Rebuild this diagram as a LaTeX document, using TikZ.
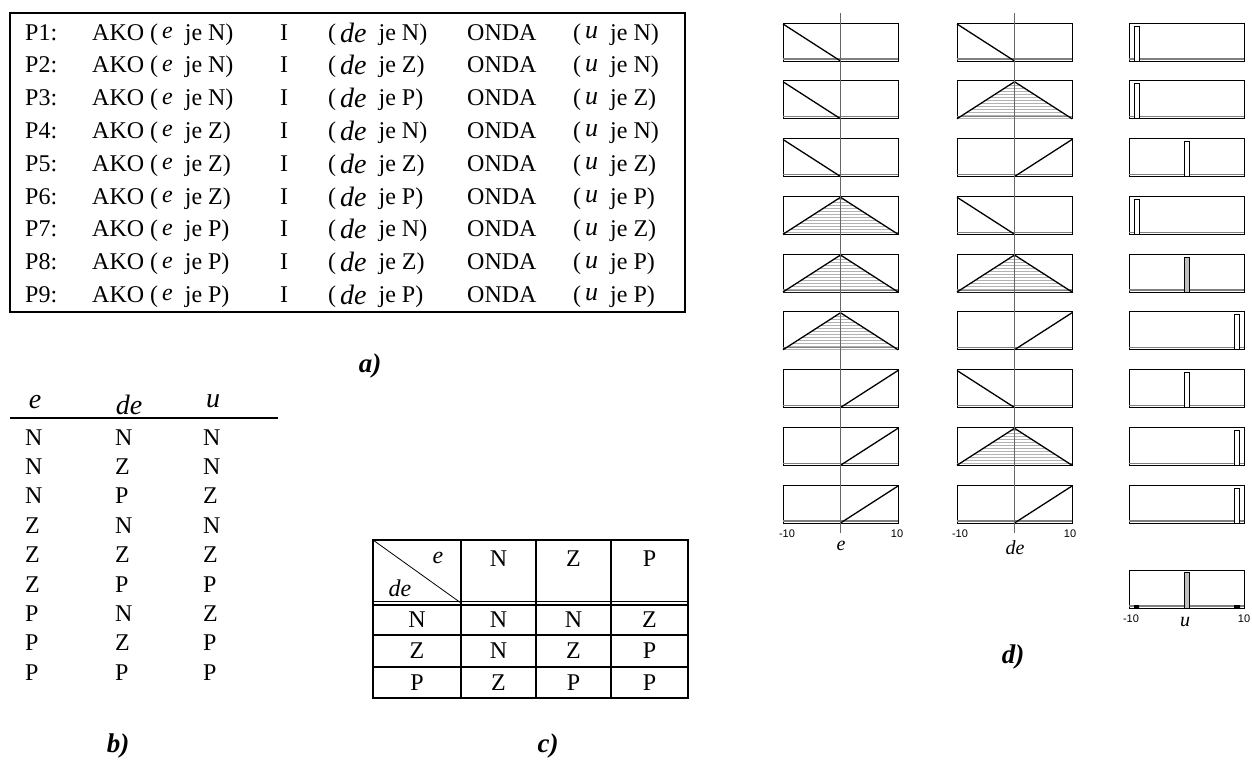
\documentclass[tikz,border=0pt]{standalone}
\usepackage{fontspec}
\setmainfont{Liberation Serif}
\newfontfamily\axisfont{Liberation Sans}
\usetikzlibrary{patterns}
\tikzset{
  % tabele
  rule/.style={font=\fontsize{24}{26}\selectfont,inner sep=0pt,anchor=base west},
  cell/.style={font=\fontsize{24}{26}\selectfont,inner sep=0pt},
  var/.style={font=\fontsize{28}{30}\selectfont\itshape,inner sep=0pt,anchor=base},
  panel/.style={font=\fontsize{27}{29}\selectfont\bfseries\itshape,inner sep=0pt},
  frame/.style={draw=black,line width=1.8pt},
  grid/.style={draw=black,line width=2pt},
  % funkcije pripadnosti
  mfbox/.style={draw=black,line width=1pt},
  mfbase/.style={draw=black!50,line width=1.2pt},
  mfaxis/.style={draw=black!60,line width=1.4pt},
  mfline/.style={draw=black,line width=1.3pt},
  mftri/.style={pattern=horizontal lines,pattern color=black!30},
  single/.style={draw=black,line width=1pt,fill=white},
  fired/.style={draw=black,line width=1pt,fill=black!25},
  axlab/.style={font=\axisfont\fontsize{11}{12}\selectfont,inner sep=0pt},
  axvar/.style={font=\fontsize{20}{22}\selectfont\itshape,inner sep=0pt},
  mfN/.pic={\draw[mfline] (0,1) -- (57.5,38);},
  mfZ/.pic={\fill[mftri] (0,38) -- (57.5,1) -- (115,38) -- cycle;
            \draw[mfline] (0,38) -- (57.5,1) -- (115,38);},
  mfP/.pic={\draw[mfline] (57.5,38) -- (115,1);},
}

\begin{document}
\begin{tikzpicture}[x=1pt,y=-1pt]
  \useasboundingbox (0,0) rectangle (1252,761);

  % a) baza pravila
  \draw[frame] (10,13) rectangle (685,312);
  \foreach \i/\ve/\vd/\vu in {1/N/N/N,2/N/Z/N,3/N/P/Z,4/Z/N/N,5/Z/Z/Z,
                              6/Z/P/P,7/P/N/Z,8/P/Z/P,9/P/P/P}{
    \pgfmathsetmacro\yb{40+32.8*(\i-1)}
    \node[rule] (pr\i) at (25,\yb) {P\i:};
    \node[rule] (ako\i) at (92,\yb) {AKO (\,\raisebox{1.5pt}{\textit{e}}\ \ je \ve)};
    \node[rule] (and\i) at (280,\yb) {I};
    \node[rule] (de\i) at (328,\yb) {(\,\raisebox{-2pt}{\fontsize{28}{30}\selectfont\itshape de}\ \ je \vd)};
    \node[rule] (onda\i) at (467,\yb) {ONDA};
    \node[rule] (u\i) at (573,\yb) {(\,\raisebox{1.5pt}{\fontsize{26}{28}\selectfont\itshape u}\ \ je \vu)};
  }
  \node[panel] (la) at (370,366) {a)};

  % b) tablica
  \node[var] (he) at (35,408) {e};
  \node[var] (hde) at (129,414) {de};
  \node[var] (hu) at (213,407) {u};
  \draw[line width=2pt] (10,418) -- (278,418);
  \foreach \i/\ve/\vd/\vu in {1/N/N/N,2/N/Z/N,3/N/P/Z,4/Z/N/N,5/Z/Z/Z,
                              6/Z/P/P,7/P/N/Z,8/P/Z/P,9/P/P/P}{
    \pgfmathsetmacro\yb{445+29.4*(\i-1)}
    \node[rule] (be\i) at (25,\yb) {\ve};
    \node[rule] (bd\i) at (115,\yb) {\vd};
    \node[rule] (bu\i) at (203,\yb) {\vu};
  }
  \node[panel] (lb) at (118,746) {b)};

  % c) matrica pravila
  \draw[line width=2.6pt] (373,540) rectangle (688,698);
  \draw[grid] (461,540) -- (461,698) (536,540) -- (536,698) (611,540) -- (611,698);
  \draw[line width=1.3pt] (373,601.5) -- (688,601.5) (373,605) -- (688,605);
  \draw[grid] (373,635) -- (688,635) (373,667) -- (688,667);
  \draw[line width=0.8pt] (373,540) -- (461,603);
  \node[cell,font=\fontsize{24}{26}\selectfont\itshape] (ce) at (438,558) {e};
  \node[cell,font=\fontsize{24}{26}\selectfont\itshape] (cde) at (400,588) {de};
  \node[cell] (cn) at (498.5,559) {N};
  \node[cell] (cz) at (573.5,559) {Z};
  \node[cell] (cp) at (649.5,559) {P};
  \node[cell] (r1) at (417,620) {N};
  \node[cell] (r2) at (417,651) {Z};
  \node[cell] (r3) at (417,683) {P};
  \node[cell] (c11) at (498.5,620) {N};
  \node[cell] (c12) at (573.5,620) {N};
  \node[cell] (c13) at (649.5,620) {Z};
  \node[cell] (c21) at (498.5,651) {N};
  \node[cell] (c22) at (573.5,651) {Z};
  \node[cell] (c23) at (649.5,651) {P};
  \node[cell] (c31) at (498.5,683) {Z};
  \node[cell] (c32) at (573.5,683) {P};
  \node[cell] (c33) at (649.5,683) {P};
  \node[panel] (lc) at (548,746) {c)};

  % d) funkcije pripadnosti
  \foreach \i/\ve/\vd/\uo/\f in {1/N/N/5/single,2/N/Z/5/single,3/N/P/55/single,
      4/Z/N/5/single,5/Z/Z/55/fired,6/Z/P/105/single,7/P/N/55/single,
      8/P/Z/105/single,9/P/P/105/single}{
    \pgfmathsetmacro\t{23+57.75*(\i-1)}
    \begin{scope}[shift={(783,\t)}]
      \draw[mfbox] (0,0) rectangle (115,38);
      \draw[mfbase] (0,36) -- (115,36);
      \pic {mf\ve};
    \end{scope}
    \begin{scope}[shift={(957,\t)}]
      \draw[mfbox] (0,0) rectangle (115,38);
      \draw[mfbase] (0,36) -- (115,36);
      \pic {mf\vd};
    \end{scope}
    \begin{scope}[shift={(1129,\t)}]
      \draw[mfbox] (0,0) rectangle (115,38);
      \draw[mfbase] (0,36) -- (115,36);
      \draw[\f] (\uo,3) rectangle ++(5,35);
    \end{scope}
  }
  \draw[mfaxis] (840.5,13) -- (840.5,533);
  \draw[mfaxis] (1014.5,13) -- (1014.5,533);
  \node[axlab] (emin) at (787,534) {-10};
  \node[axlab] (emax) at (897,534) {10};
  \node[axvar] (ex) at (841,546) {e};
  \node[axlab] (dmin) at (960,534) {-10};
  \node[axlab] (dmax) at (1070,534) {10};
  \node[axvar] (dx) at (1015,548) {de};

  % izlaz
  \begin{scope}[shift={(1129,570)}]
    \draw[mfbox] (0,0) rectangle (115,38);
    \draw[mfbase] (0,36) -- (115,36);
    \draw[fired] (55,2) rectangle ++(5,36);
    \fill (5,35) rectangle (10,38) (105,35) rectangle (111,38);
  \end{scope}
  \node[axlab] (umin) at (1131,619) {-10};
  \node[axvar] (ux) at (1185,622) {u};
  \node[axlab] (umax) at (1244,619) {10};
  \node[panel] (ld) at (1013,657) {d)};
\end{tikzpicture}
\end{document}
